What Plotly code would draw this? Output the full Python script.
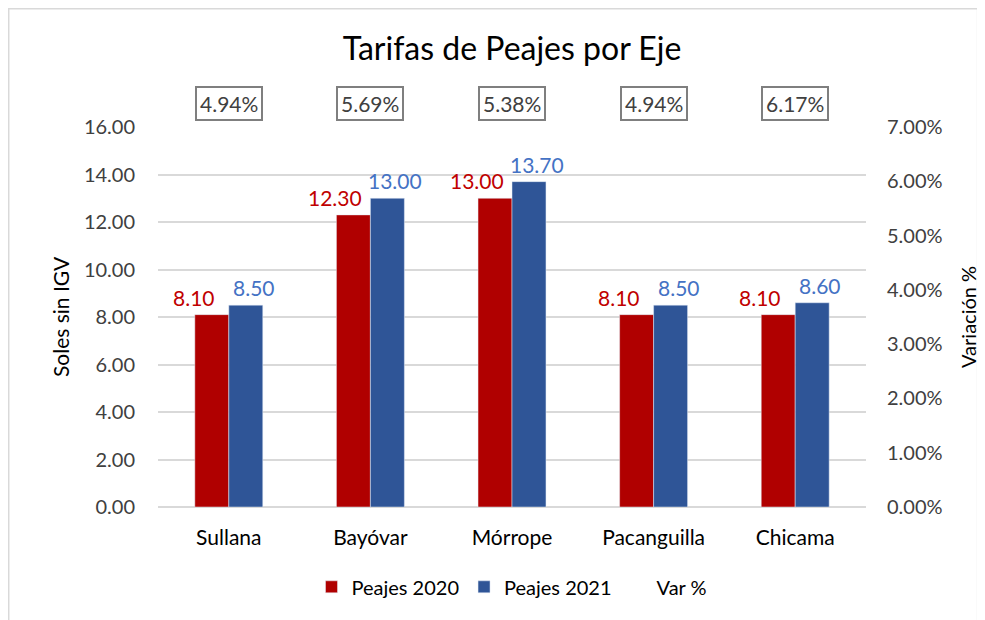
import plotly.graph_objects as go

# Data
ejes = ["Sullana", "Bayóvar", "Mórrope", "Pacanguilla", "Chicama"]
peajes_2020 = [8.10, 12.30, 13.00, 8.10, 8.10]
peajes_2021 = [8.50, 13.00, 13.70, 8.50, 8.60]
var_pct = [0.0494, 0.0569, 0.0538, 0.0494, 0.0617]

RED = "#B00000"
RED_TXT = "#C00000"
BLUE = "#2F5597"
BLUE_TXT = "#4472C4"
FONT = "Lato"

fig = go.Figure()

fig.add_trace(go.Bar(
    x=ejes, y=peajes_2020, name="Peajes 2020",
    marker=dict(color=RED), yaxis="y",
))
fig.add_trace(go.Bar(
    x=ejes, y=peajes_2021, name="Peajes 2021",
    marker=dict(color=BLUE), yaxis="y",
))
# Var % series: invisible line, shown only as boxed labels
fig.add_trace(go.Scatter(
    x=ejes, y=var_pct, name="Var %", mode="lines",
    line=dict(color="rgba(0,0,0,0)"), yaxis="y2",
))

annotations = []
# value labels on bars
for eje, v in zip(ejes, peajes_2020):
    annotations.append(dict(
        x=eje, y=v, xref="x", yref="y", text=f"{v:.2f}",
        showarrow=False, yanchor="bottom", xshift=-35, yshift=3,
        font=dict(family=FONT, size=21, color=RED_TXT),
    ))
for eje, v in zip(ejes, peajes_2021):
    annotations.append(dict(
        x=eje, y=v, xref="x", yref="y", text=f"{v:.2f}",
        showarrow=False, yanchor="bottom", xshift=25, yshift=3,
        font=dict(family=FONT, size=21, color=BLUE_TXT),
    ))
# boxed variation labels above plot
for eje, p in zip(ejes, var_pct):
    annotations.append(dict(
        x=eje, y=1.063, xref="x", yref="paper", text=f"{p*100:.2f}%",
        showarrow=False, yanchor="middle",
        bordercolor="#7F7F7F", borderwidth=2, borderpad=3, bgcolor="white",
        font=dict(family=FONT, size=21, color="#404040"),
    ))
# axis titles
annotations.append(dict(
    x=-0.1384, y=0.5, xref="paper", yref="paper", text="Soles sin IGV",
    textangle=-90, showarrow=False, xanchor="center", yanchor="middle",
    font=dict(family=FONT, size=21, color="#000000"),
))
annotations.append(dict(
    x=1.144, y=0.5, xref="paper", yref="paper", text="Variación %",
    textangle=-90, showarrow=False, xanchor="center", yanchor="middle",
    font=dict(family=FONT, size=20, color="#000000"),
))

fig.update_layout(
    width=985, height=620,
    margin=dict(l=150, r=127, t=119, b=121),
    paper_bgcolor="white", plot_bgcolor="white",
    font=dict(family=FONT, size=20, color="#404040"),
    title=dict(
        text="Tarifas de Peajes por Eje", x=0.5, xref="paper", xanchor="center",
        y=0.935, yref="container", yanchor="middle",
        font=dict(family=FONT, size=32, color="#000000"),
    ),
    barmode="group", bargap=0.52, bargroupgap=0,
    xaxis=dict(
        showgrid=False, showline=False, ticks="",
        ticklabelstandoff=16,
        tickfont=dict(family=FONT, size=21, color="#000000"),
    ),
    yaxis=dict(
        range=[0, 16], dtick=2, tickformat=".2f",
        showgrid=True, gridcolor="#D9D9D9", gridwidth=1.5,
        zeroline=True, zerolinecolor="#D9D9D9", zerolinewidth=1.5,
        ticks="", ticklabelstandoff=22,
        tickfont=dict(family=FONT, size=20, color="#404040"),
    ),
    yaxis2=dict(
        range=[0, 0.07], dtick=0.01, tickformat=".2%",
        overlaying="y", side="right", showgrid=False, zeroline=False,
        ticks="", ticklabelstandoff=20,
        tickfont=dict(family=FONT, size=20, color="#404040"),
    ),
    legend=dict(
        orientation="h", x=0.5, xanchor="center", y=-0.21, yanchor="middle",
        font=dict(family=FONT, size=20, color="#000000"),
        itemwidth=30,
    ),
    annotations=annotations,
    shapes=[dict(
        type="rect", xref="paper", yref="paper",
        x0=-0.2112, x1=1.158, y0=-0.35, y1=1.3118,
        line=dict(color="#D9D9D9", width=2), layer="below",
    )],
)

fig.write_html("out.html")
